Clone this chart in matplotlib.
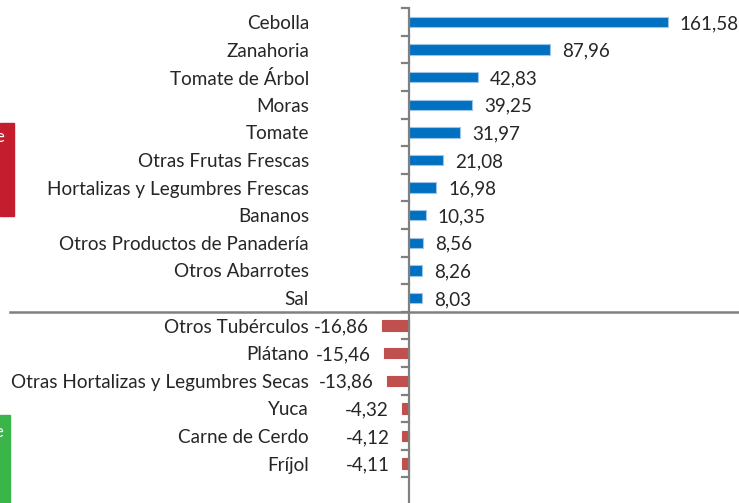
import matplotlib
matplotlib.use("Agg")
import matplotlib.pyplot as plt
from matplotlib.patches import Rectangle

categories = ["Cebolla", "Zanahoria", "Tomate de Árbol", "Moras", "Tomate",
              "Otras Frutas Frescas", "Hortalizas y Legumbres Frescas", "Bananos",
              "Otros Productos de Panadería", "Otros Abarrotes", "Sal",
              "Otros Tubérculos", "Plátano", "Otras Hortalizas y Legumbres Secas",
              "Yuca", "Carne de Cerdo", "Fríjol"]
values = [161.58, 87.96, 42.83, 39.25, 31.97, 21.08, 16.98, 10.35, 8.56, 8.26, 8.03,
          -16.86, -15.46, -13.86, -4.32, -4.12, -4.11]

W, H = 739, 503
fig = plt.figure(figsize=(W / 100, H / 100), dpi=100)
ax = fig.add_axes([0, 0, 1, 1])
ax.set_axis_off()

x0_px = 409.0
scale = 1.6  # px per unit
y0_px = 22.0
step = 27.6
ax.set_xlim(-x0_px / scale, (W - x0_px) / scale)
ax.set_ylim((H - y0_px) / step, -y0_px / step)

FONT = "Lato"
TXT = "#262626"
GRAY = "#808080"
fs = 13.6

pos = list(range(len(categories)))
colors = ["#0070C0" if v >= 0 else "#C0504D" for v in values]
edges = ["#9DC3E6" if v >= 0 else "#C0504D" for v in values]
ax.barh(pos, values, height=0.38, color=colors, edgecolor=edges, linewidth=0.8, zorder=2)

label_x = (309 - x0_px) / scale
for i, (c, v) in enumerate(zip(categories, values)):
    ax.text(label_x, i, c, ha="right", va="center_baseline", fontsize=fs, family=FONT, color=TXT)
    s = f"{v:.2f}".replace(".", ",")
    if v >= 0:
        ax.text(v + 12 / scale, i, s, ha="left", va="center_baseline", fontsize=fs, family=FONT, color=TXT)
    else:
        ax.text(v - 13 / scale, i, s, ha="right", va="center_baseline", fontsize=fs, family=FONT, color=TXT)

# vertical axis line and ticks
ax.plot([0, 0], [-0.5, 20], color=GRAY, lw=1.6, zorder=3, solid_capstyle="butt")
for k in range(len(categories) + 1):
    ax.plot([-7 / scale, 0], [k - 0.5, k - 0.5], color=GRAY, lw=1.6, zorder=3)

# separator line
ax.plot([(10 - x0_px) / scale, (W - x0_px) / scale], [10.5, 10.5], color=GRAY, lw=1.8, zorder=3)

# partial side boxes (cropped in reference)
fig.patches.append(Rectangle((0, 1 - 216 / H), 14 / W, 93 / H, transform=fig.transFigure,
                             color="#C41E2E", zorder=0))
fig.text(4 / W, 1 - 137 / H, "e", ha="right", va="center", color="white", fontsize=12, family=FONT)
fig.patches.append(Rectangle((0, 0), 10 / W, 88 / H, transform=fig.transFigure,
                             color="#3AB54A", zorder=0))
fig.text(3 / W, 1 - 432 / H, "e", ha="right", va="center", color="white", fontsize=12, family=FONT)

fig.savefig("out.png", dpi=100)
